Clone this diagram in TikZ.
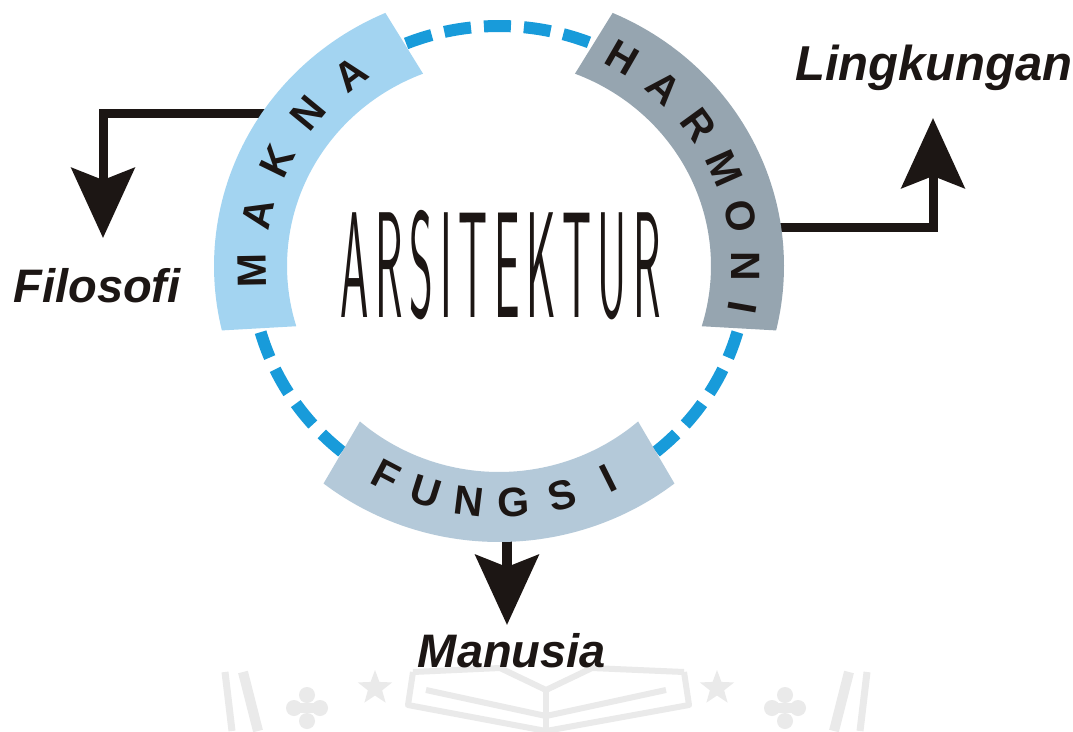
\documentclass[tikz,border=0pt]{standalone}
\usepackage{fontspec}
\usepackage{graphicx}
\setmainfont{Liberation Sans}
\usetikzlibrary{arrows.meta,shapes.geometric}
\definecolor{maknac}{RGB}{163,212,241}
\definecolor{harmc}{RGB}{150,165,176}
\definecolor{fungc}{RGB}{180,201,217}
\definecolor{dashc}{RGB}{24,155,218}
\definecolor{inkc}{RGB}{28,22,20}
\definecolor{wmc}{RGB}{234,234,234}
\newcommand\arsgap{\kern22pt}
\begin{document}
\begin{tikzpicture}[x=1pt,y=-1pt,
  conn/.style={draw=inkc, line width=9pt, -{Stealth[length=70pt,width=63pt,inset=12pt]}},
  ltr/.style={inner sep=0pt, font=\fontsize{41}{41}\selectfont\bfseries, text=inkc},
  lab/.style={inner sep=0pt, font=\fontsize{47}{47}\selectfont\bfseries\itshape, text=inkc},
  dring/.style={draw=dashc, line width=12pt, dash pattern=on 27pt off 13pt},
  wm/.style={draw=wmc, line width=7pt},
  wmstar/.style={star, star points=5, star point ratio=2.4, fill=wmc, draw=none, minimum size=36pt, inner sep=0pt}]
\fill[white] (0,0) rectangle (1073,731);
\useasboundingbox (0,0) rectangle (1073,731);

% ---- faint watermark ----
\draw[wm] (225,672) -- (232,731);
\draw[wm, line width=10pt] (243,672) -- (258,731);
\draw[wm] (867,672) -- (860,731);
\draw[wm, line width=10pt] (849,672) -- (834,731);
\foreach \cx/\nm in {307/cla, 785/clb}{
  \fill[wmc] (\cx-13,708) circle (8) (\cx+13,708) circle (8) (\cx,695) circle (8) (\cx,721) circle (8);
  \fill[wmc] (\cx-8,703) rectangle (\cx+8,713);
}
\node[wmstar] (sta) at (375,688) {};
\node[wmstar] (stb) at (717,688) {};
\draw[wm, line width=6pt, line join=round] (413,672) -- (408,705) -- (546,731) -- (689,705) -- (684,672);
\draw[wm, line width=6pt, line join=round] (413,672) -- (500,668) -- (546,690) -- (592,668) -- (684,672);
\draw[wm, line width=6pt, line join=round] (426,690) -- (546,716) -- (666,690);
\draw[wm, line width=6pt] (546,690) -- (546,731);

% ---- dashed ring ----
\draw[dring] plot[domain=112:64, samples=60] ({499+248*cos(\x)},{266-240*sin(\x)});
\draw[dring] plot[domain=196:233, samples=50] ({499+248*cos(\x)},{266-240*sin(\x)});
\draw[dring] plot[domain=-16:-53, samples=50] ({499+248*cos(\x)},{266-240*sin(\x)});

% ---- label nodes ----
\node[lab, anchor=base] (filo) at (97,302) {Filosofi};
\node[lab, anchor=base west, font=\fontsize{49}{49}\selectfont\bfseries\itshape] (ling) at (795,80) {Lingkungan};
\node[lab, anchor=base] (man) at (512,667) {Manusia};

% ---- connectors ----
\coordinate (mkout) at (275,113);
\coordinate (filotip) at (103,238);
\coordinate (hmout) at (765,227);
\coordinate (lingtip) at (933,118);
\coordinate (fgout) at (507,530);
\coordinate (mantip) at (507,625);
\draw[conn] (mkout) -| (filotip);
\draw[conn] (hmout) -| (lingtip);
\draw[conn, line width=10pt] (fgout) -- (mantip);

% ---- bands ----
\fill[maknac] plot[domain=113.5:193.5, samples=60] ({499+285*cos(\x)},{266-276*sin(\x)})
  -- plot[domain=197:111, samples=60] ({499+212*cos(\x)},{266-206*sin(\x)}) -- cycle;
\fill[harmc] plot[domain=66.5:-13.5, samples=60] ({499+285*cos(\x)},{266-276*sin(\x)})
  -- plot[domain=-17:69, samples=60] ({499+212*cos(\x)},{266-206*sin(\x)}) -- cycle;
\fill[fungc] plot[domain=232:308, samples=60] ({499+285*cos(\x)},{266-276*sin(\x)})
  -- plot[domain=311:229, samples=60] ({499+212*cos(\x)},{266-206*sin(\x)}) -- cycle;

% ---- band letters ----
\foreach \ch/\a [count=\i, evaluate=\a as \r using \a-90] in {M/181,A/167.5,K/154,N/140.5,A/127}
  \node[ltr, rotate=\r] (mk\i) at ({499+247*cos(\a)},{266-240*sin(\a)}) {\ch};
\foreach \ch/\a [count=\i, evaluate=\a as \r using \a-90] in {H/60,A/48,R/36,M/24,O/12,N/0,I/-10}
  \node[ltr, rotate=\r] (hm\i) at ({499+247*cos(\a)},{266-240*sin(\a)}) {\ch};
\foreach \ch/\a [count=\i, evaluate=\a as \r using \a+90] in {F/242.4,U/252.5,N/263,G/273.5,S/285,I/296.5}
  \node[ltr, rotate=\r] (fg\i) at ({499+244*cos(\a)},{266-237*sin(\a)}) {\ch};

% ---- centre title ----
\node[inner sep=0pt, text=inkc, font=\fontsize{151}{151}\selectfont\sffamily] (arsi) at (501,265.5)
  {\scalebox{0.30}[1]{A\arsgap R\arsgap S\arsgap I\arsgap T\arsgap E\arsgap K\arsgap T\arsgap U\arsgap R}};
\end{tikzpicture}
\end{document}
